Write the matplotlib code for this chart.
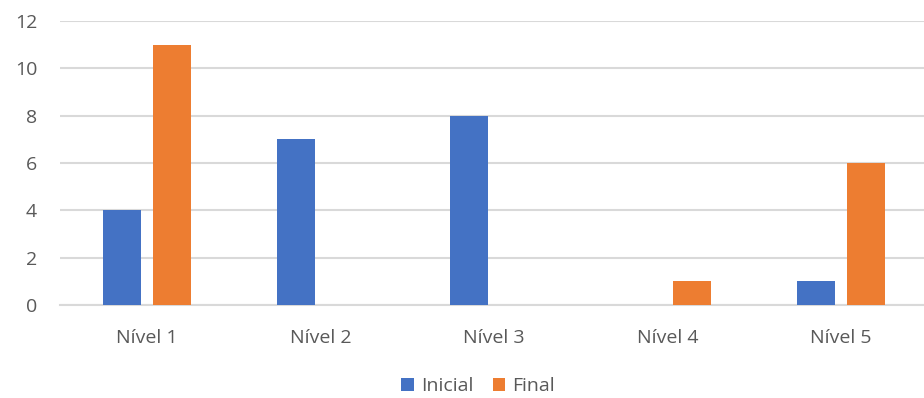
import matplotlib
matplotlib.use("Agg")
import matplotlib.pyplot as plt
import numpy as np

categories = ["Nível 1", "Nível 2", "Nível 3", "Nível 4", "Nível 5"]
inicial = [4, 7, 8, 0, 1]
final = [11, 0, 0, 1, 6]
y_ticks = [0, 2, 4, 6, 8, 10, 12]

BLUE = "#4472C4"
ORANGE = "#ED7D31"
GRID = "#D9D9D9"
TEXT = "#595959"

plt.rcParams["font.family"] = ["Open Sans", "DejaVu Sans"]

fig = plt.figure(figsize=(9.24, 3.98), dpi=100)
ax = fig.add_axes([60 / 924, (398 - 305) / 398, 868 / 924, 284 / 398])

x = np.arange(len(categories))
w = 0.219
off = 0.1425
ax.bar(x - off, inicial, width=w, color=BLUE, label="Inicial", zorder=3)
ax.bar(x + off, final, width=w, color=ORANGE, label="Final", zorder=3)

ax.set_xlim(-0.5, len(categories) - 0.5)
ax.set_ylim(0, 12)
ax.set_yticks(y_ticks)
ax.set_xticks(x)
ax.set_xticklabels(categories)
ax.yaxis.grid(True, color=GRID, linewidth=1.5, zorder=0)
ax.set_axisbelow(True)
for s in ["top", "right", "left"]:
    ax.spines[s].set_visible(False)
ax.spines["bottom"].set_color(GRID)
ax.spines["bottom"].set_linewidth(1.5)
ax.tick_params(axis="both", length=0, labelsize=14, colors=TEXT)
ax.tick_params(axis="y", pad=16.5)
ax.tick_params(axis="x", pad=17.5)

fig.legend(loc="center", bbox_to_anchor=(478 / 924, 1 - 386 / 398), ncol=2,
           frameon=False, fontsize=14, labelcolor=TEXT, handlelength=0.65,
           handleheight=0.65, handletextpad=0.35, columnspacing=1.0)

fig.savefig("out.png", dpi=100)
